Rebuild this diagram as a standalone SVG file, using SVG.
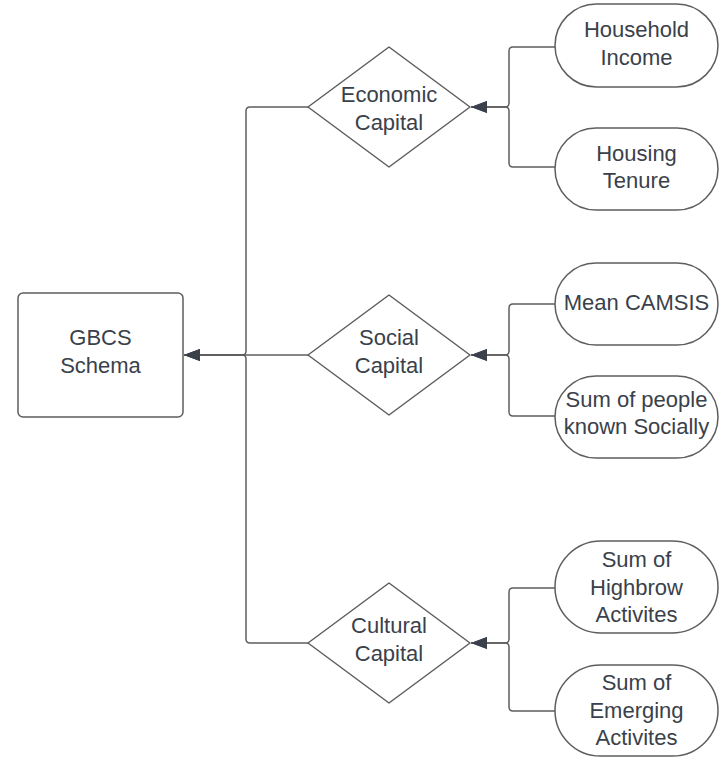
<svg xmlns="http://www.w3.org/2000/svg" width="724" height="757" viewBox="0 0 724 757">
  <style>
    .shape { fill: #ffffff; stroke: #5e5e5e; stroke-width: 1.5; }
    .conn { fill: none; stroke: #5e5e5e; stroke-width: 1.5; }
    .lbl { font-family: "Liberation Sans", Arial, sans-serif; font-size: 22px; fill: #3a414a; text-anchor: middle; }
  </style>
  <defs>
    <marker id="arrow" viewBox="0 0 16 12" refX="16" refY="6" markerWidth="16" markerHeight="12" markerUnits="userSpaceOnUse" orient="auto">
      <path d="M0,0 L16,6 L0,12 Z" fill="#3a414a"/>
    </marker>
  </defs>
  <rect width="724" height="757" fill="#ffffff"/>

  <!-- connectors -->
  <g id="connectors">
    <!-- capitals into the schema -->
    <path class="conn" d="M308,107 H250 Q246,107 246,111 V351 Q246,355 242,355 H184" marker-end="url(#arrow)"/>
    <path class="conn" d="M308,355 H184" marker-end="url(#arrow)"/>
    <path class="conn" d="M308,643 H250 Q246,643 246,639 V359 Q246,355 242,355 H184" marker-end="url(#arrow)"/>
    <!-- economic indicators -->
    <path class="conn" d="M555,47 H513 Q509,47 509,51 V103 Q509,107 505,107 H471" marker-end="url(#arrow)"/>
    <path class="conn" d="M555,167 H513 Q509,167 509,163 V111 Q509,107 505,107 H471" marker-end="url(#arrow)"/>
    <!-- social indicators -->
    <path class="conn" d="M555,304 H513 Q509,304 509,308 V351 Q509,355 505,355 H471" marker-end="url(#arrow)"/>
    <path class="conn" d="M555,416 H513 Q509,416 509,412 V359 Q509,355 505,355 H471" marker-end="url(#arrow)"/>
    <!-- cultural indicators -->
    <path class="conn" d="M555,588 H513 Q509,588 509,592 V639 Q509,643 505,643 H471" marker-end="url(#arrow)"/>
    <path class="conn" d="M555,711 H513 Q509,711 509,707 V647 Q509,643 505,643 H471" marker-end="url(#arrow)"/>
  </g>

  <g id="gbcs-schema">
    <rect class="shape" x="18" y="293" width="165" height="124" rx="5"/>
    <text class="lbl" x="100.5" y="345">GBCS</text>
    <text class="lbl" x="100.5" y="372.5">Schema</text>
  </g>

  <g id="economic-capital">
    <path class="shape" d="M389,47 L470,107 L389,167 L308,107 Z" stroke-linejoin="round"/>
    <text class="lbl" x="389" y="102">Economic</text>
    <text class="lbl" x="389" y="129.5">Capital</text>
  </g>

  <g id="social-capital">
    <path class="shape" d="M389,295 L470,355 L389,415 L308,355 Z" stroke-linejoin="round"/>
    <text class="lbl" x="389" y="345">Social</text>
    <text class="lbl" x="389" y="372.5">Capital</text>
  </g>

  <g id="cultural-capital">
    <path class="shape" d="M389,583 L470,643 L389,703 L308,643 Z" stroke-linejoin="round"/>
    <text class="lbl" x="389" y="633">Cultural</text>
    <text class="lbl" x="389" y="660.5">Capital</text>
  </g>

  <g id="household-income">
    <rect class="shape" x="555" y="4" width="163" height="83" rx="41.5"/>
    <text class="lbl" x="636.5" y="37">Household</text>
    <text class="lbl" x="636.5" y="64.5">Income</text>
  </g>

  <g id="housing-tenure">
    <rect class="shape" x="555" y="128" width="163" height="82" rx="41"/>
    <text class="lbl" x="636.5" y="160.5">Housing</text>
    <text class="lbl" x="636.5" y="188">Tenure</text>
  </g>

  <g id="mean-camsis">
    <rect class="shape" x="555" y="263" width="163" height="82" rx="41"/>
    <text class="lbl" x="636.5" y="309.5">Mean CAMSIS</text>
  </g>

  <g id="people-known-socially">
    <rect class="shape" x="555" y="376" width="163" height="82" rx="41"/>
    <text class="lbl" x="636.5" y="406.5">Sum of people</text>
    <text class="lbl" x="636.5" y="434">known Socially</text>
  </g>

  <g id="highbrow-activities">
    <rect class="shape" x="555" y="541" width="163" height="92" rx="46"/>
    <text class="lbl" x="636.5" y="567">Sum of</text>
    <text class="lbl" x="636.5" y="594.5">Highbrow</text>
    <text class="lbl" x="636.5" y="622">Activites</text>
  </g>

  <g id="emerging-activities">
    <rect class="shape" x="555" y="665" width="163" height="91" rx="45.5"/>
    <text class="lbl" x="636.5" y="690">Sum of</text>
    <text class="lbl" x="636.5" y="717.5">Emerging</text>
    <text class="lbl" x="636.5" y="745">Activites</text>
  </g>
</svg>
